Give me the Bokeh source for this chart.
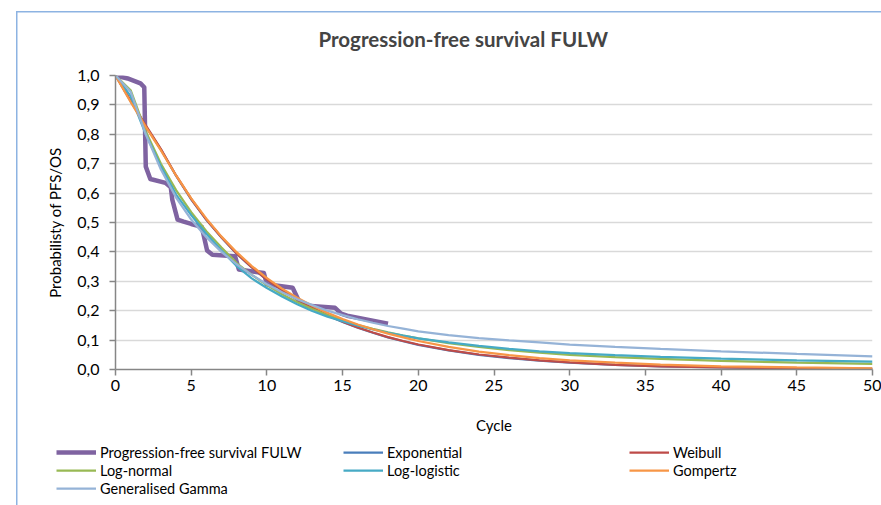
from bokeh.plotting import figure
from bokeh.layouts import column
from bokeh.models import Range1d, FixedTicker, CustomJSTickFormatter, Legend, LegendItem
from bokeh.embed import file_html
from bokeh.resources import INLINE

# ---- data ----
cycles = [0, 1, 2, 3, 4, 5, 6, 7, 8, 9, 10, 11, 12, 13, 14, 15, 16, 17, 18, 19, 20,
          22, 24, 26, 28, 30, 33, 36, 40, 45, 50]
exponential = [1.0, 0.913, 0.828, 0.748, 0.659, 0.579, 0.509, 0.449, 0.394, 0.347, 0.305,
               0.269, 0.237, 0.209, 0.184, 0.162, 0.142, 0.125, 0.109, 0.096, 0.084,
               0.065, 0.050, 0.039, 0.030, 0.023, 0.016, 0.011, 0.007, 0.004, 0.002]
weibull = [1.0, 0.915, 0.83, 0.75, 0.66, 0.58, 0.51, 0.45, 0.395, 0.348, 0.306,
           0.27, 0.238, 0.21, 0.185, 0.163, 0.143, 0.126, 0.11, 0.097, 0.085,
           0.066, 0.051, 0.040, 0.031, 0.024, 0.016, 0.011, 0.007, 0.004, 0.002]
log_normal = [1.0, 0.95, 0.81, 0.70, 0.61, 0.535, 0.47, 0.415, 0.362, 0.322, 0.287,
              0.256, 0.229, 0.206, 0.185, 0.167, 0.151, 0.138, 0.126, 0.115, 0.106,
              0.090, 0.077, 0.066, 0.057, 0.050, 0.042, 0.036, 0.029, 0.023, 0.019]
log_logistic = [1.0, 0.93, 0.80, 0.69, 0.595, 0.525, 0.462, 0.405, 0.352, 0.31, 0.277,
                0.248, 0.222, 0.199, 0.18, 0.164, 0.149, 0.136, 0.125, 0.115, 0.106,
                0.092, 0.080, 0.070, 0.062, 0.056, 0.049, 0.043, 0.037, 0.031, 0.027]
gompertz = [1.0, 0.91, 0.825, 0.745, 0.66, 0.582, 0.513, 0.452, 0.399, 0.352, 0.311,
            0.275, 0.244, 0.217, 0.193, 0.172, 0.153, 0.137, 0.122, 0.109, 0.097,
            0.077, 0.061, 0.049, 0.039, 0.031, 0.023, 0.017, 0.011, 0.007, 0.004]
gen_gamma = [1.0, 0.945, 0.80, 0.68, 0.585, 0.51, 0.45, 0.40, 0.358, 0.322, 0.29,
             0.263, 0.239, 0.219, 0.20, 0.185, 0.171, 0.159, 0.148, 0.139, 0.13,
             0.117, 0.107, 0.099, 0.092, 0.085, 0.077, 0.070, 0.062, 0.053, 0.045]

km_time = [0, 0.8, 1.65, 1.9, 2.0, 2.3, 3.3, 3.65, 3.75, 4.1, 4.5, 5.0, 5.7, 6.05, 6.4,
           7.9, 8.15, 9.8, 10.0, 11.7, 12.1, 12.7, 14.5, 14.9, 15.3, 18.0]
km_surv = [1.0, 0.99, 0.973, 0.96, 0.69, 0.648, 0.635, 0.62, 0.578, 0.51, 0.503, 0.495,
           0.485, 0.405, 0.39, 0.385, 0.34, 0.328, 0.29, 0.278, 0.235, 0.217, 0.21,
           0.19, 0.183, 0.156]

x_ticks = [0, 5, 10, 15, 20, 25, 30, 35, 40, 45, 50]
y_ticks = [0.0, 0.1, 0.2, 0.3, 0.4, 0.5, 0.6, 0.7, 0.8, 0.9, 1.0]

series_names = ["Progression-free survival FULW", "Exponential", "Weibull", "Log-normal",
                "Log-logistic", "Gompertz", "Generalised Gamma"]

FONT = "Lato"
BORDER = "#8DB3E2"
COLORS = ["#7F63A1", "#4A7EBB", "#BE4B48", "#98B954", "#46AAC5", "#F79646", "#95B3D7"]
WIDTHS = [4.5, 2.25, 2.25, 2.25, 2.25, 2.25, 2.25]
fitted = [exponential, weibull, log_normal, log_logistic, gompertz, gen_gamma]

# ---------------- main chart ----------------
p = figure(frame_width=757, frame_height=294,
           x_range=Range1d(0, 50), y_range=Range1d(0, 1),
           output_backend="svg", toolbar_location=None,
           min_border_left=115, min_border_right=9, min_border_top=75, min_border_bottom=71,
           title="Progression-free survival FULW")
p.frame_align = False
p.border_fill_alpha = 0
p.styles = {
    "background": (f"linear-gradient({BORDER},{BORDER}) 16px 11px / 1.5px 100% no-repeat, "
                   f"linear-gradient({BORDER},{BORDER}) 16px 11px / 100% 1.5px no-repeat, white"),
}

p.title.text_font = FONT
p.title.text_font_size = "20.5px"
p.title.text_font_style = "bold"
p.title.align = "left"
p.title.offset = 203
p.title.vertical_align = "middle"
p.title.standoff = 47

p.outline_line_color = None
p.background_fill_color = "white"
p.xgrid.visible = False
p.ygrid.grid_line_color = "#D9D9D9"
p.ygrid.grid_line_width = 1.5

for ax in (p.xaxis[0], p.yaxis[0]):
    ax.axis_line_color = "#868686"
    ax.axis_line_width = 1.5
    ax.major_tick_line_color = "#868686"
    ax.major_tick_line_width = 1.5
    ax.major_tick_out = 6
    ax.major_tick_in = 0
    ax.minor_tick_line_color = None
    ax.major_label_text_font = FONT
    ax.major_label_text_font_size = "16px"
    ax.major_label_text_color = "black"
    ax.axis_label_text_font = FONT
    ax.axis_label_text_font_size = "15px"
    ax.axis_label_text_font_style = "normal"
    ax.axis_label_text_color = "black"

p.xaxis.ticker = FixedTicker(ticks=x_ticks)
p.yaxis.ticker = FixedTicker(ticks=y_ticks)
p.yaxis.formatter = CustomJSTickFormatter(code="return tick.toFixed(1).replace('.', ',');")
p.xaxis.axis_label = "Cycle"
p.yaxis.axis_label = "Probabilisty of PFS/OS"
p.xaxis.major_label_standoff = 4
p.xaxis.axis_label_standoff = 22
p.yaxis.major_label_standoff = 10
p.yaxis.axis_label_standoff = 10

p.line(km_time, km_surv, line_color=COLORS[0], line_width=WIDTHS[0], line_join="round")
for ys, c, w in zip(fitted, COLORS[1:], WIDTHS[1:]):
    p.line(cycles, ys, line_color=c, line_width=w)

# ---------------- legend strip below the chart ----------------
# same series drawn again, outside this strip's visible x-range, only to key the legend
lg = figure(width=881, height=65, x_range=Range1d(-20, -19), y_range=Range1d(0, 1),
            output_backend="svg", toolbar_location=None,
            min_border_left=0, min_border_right=0, min_border_top=0, min_border_bottom=0)
lg.frame_align = False
lg.axis.visible = False
lg.grid.visible = False
lg.outline_line_color = None
lg.border_fill_alpha = 0
lg.background_fill_alpha = 0
lg.styles = {
    "background": f"linear-gradient({BORDER},{BORDER}) 16px 0px / 1.5px 100% no-repeat, white",
}
key_renderers = [lg.line(km_time, km_surv, line_color=COLORS[0], line_width=WIDTHS[0])]
for ys, c, w in zip(fitted, COLORS[1:], WIDTHS[1:]):
    key_renderers.append(lg.line(cycles, ys, line_color=c, line_width=w))


def legend_column(idx, loc):
    leg = Legend(items=[LegendItem(label=series_names[i], renderers=[key_renderers[i]]) for i in idx],
                 location=loc, orientation="vertical",
                 border_line_color=None, background_fill_alpha=0,
                 padding=0, margin=0, spacing=0,
                 glyph_width=40, glyph_height=18, label_height=18,
                 label_standoff=4, label_text_font=FONT, label_text_font_size="14.5px",
                 label_text_color="black")
    lg.add_layout(leg, "center")


legend_column([0, 3, 6], (56, 8))
legend_column([1, 4], (343, 26))
legend_column([2, 5], (629, 26))

layout = column(p, lg, spacing=0)
open("out.html", "w").write(file_html(layout, INLINE))
